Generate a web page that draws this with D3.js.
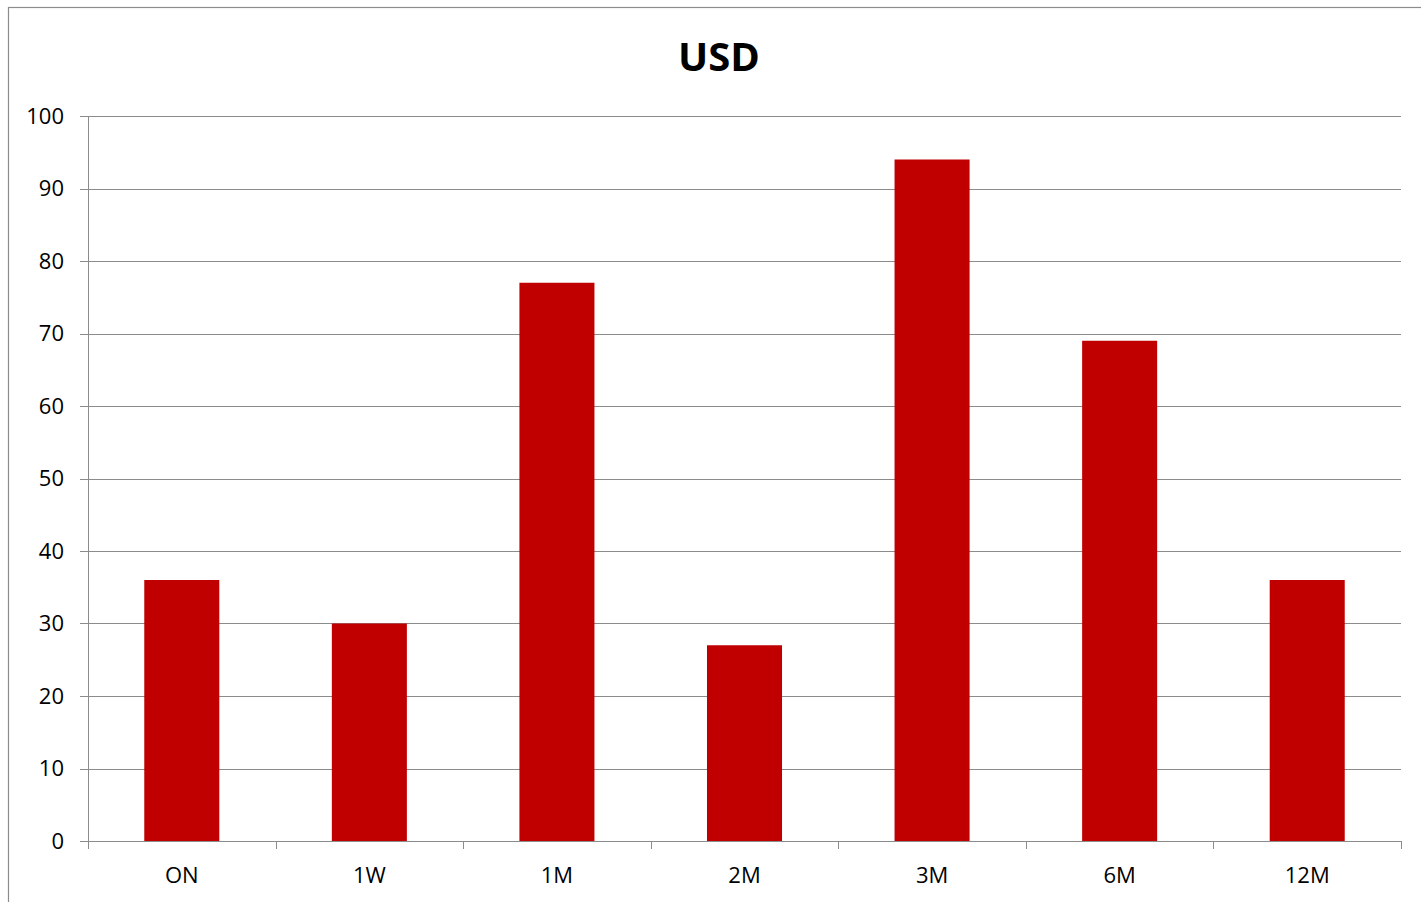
<!DOCTYPE html>
<html>
<head>
<meta charset="utf-8">
<script src="https://cdn.jsdelivr.net/npm/d3@7"></script>
<style>
  body { margin: 0; background: #fff; }
  text { font-family: "Open Sans", "Noto Sans", sans-serif; }
</style>
</head>
<body>
<div class="canvas"></div>
<script>
// chart data
const categories = ['ON', '1W', '1M', '2M', '3M', '6M', '12M'];
const values = [36, 30, 77, 27, 94, 69, 36];
const yTicks = [0, 10, 20, 30, 40, 50, 60, 70, 80, 90, 100];
const title = 'USD';

const dims = { width: 1421, height: 902 };
const plot = { left: 88, right: 1401, top: 116, bottom: 841 };

const svg = d3.select('.canvas')
    .append('svg')
    .attr('width', dims.width)
    .attr('height', dims.height);

// outer chart border (runs off the right / bottom edge)
svg.append('rect')
    .attr('x', 8.5).attr('y', 7.5)
    .attr('width', 1430).attr('height', 920)
    .attr('fill', 'none')
    .attr('stroke', '#8c8c8c')
    .attr('stroke-width', 1.2);

// scales
const x = d3.scaleBand()
    .domain(categories)
    .range([plot.left, plot.right])
    .paddingInner(0.6)
    .paddingOuter(0.3);

const xEdges = d3.scaleBand()
    .domain(categories)
    .range([plot.left, plot.right]);

const y = d3.scaleLinear()
    .domain([0, 100])
    .range([plot.bottom, plot.top]);

// gridlines
svg.append('g')
    .selectAll('line')
    .data(yTicks)
    .enter()
    .append('line')
    .attr('x1', plot.left - 8)
    .attr('x2', plot.right)
    .attr('y1', d => Math.round(y(d)) + 0.5)
    .attr('y2', d => Math.round(y(d)) + 0.5)
    .attr('stroke', '#8c8c8c')
    .attr('stroke-width', 1);

// y axis line
svg.append('line')
    .attr('x1', plot.left + 0.5).attr('x2', plot.left + 0.5)
    .attr('y1', plot.top).attr('y2', plot.bottom + 7)
    .attr('stroke', '#8c8c8c');

// y labels
svg.append('g')
    .selectAll('text')
    .data(yTicks)
    .enter()
    .append('text')
    .attr('x', 64)
    .attr('y', d => y(d))
    .attr('dy', '0.35em')
    .attr('text-anchor', 'end')
    .attr('font-size', 22)
    .attr('fill', '#000')
    .text(d => d);

// bars
svg.append('g')
    .selectAll('rect')
    .data(values)
    .enter()
    .append('rect')
    .attr('x', (d, i) => x(categories[i]))
    .attr('width', x.bandwidth())
    .attr('y', d => y(d))
    .attr('height', d => y(0) - y(d))
    .attr('fill', '#c00000');

// x axis line + ticks
svg.append('line')
    .attr('x1', plot.left).attr('x2', plot.right)
    .attr('y1', plot.bottom + 0.5).attr('y2', plot.bottom + 0.5)
    .attr('stroke', '#8c8c8c');

const edgeTicks = categories.map(c => xEdges(c)).concat([plot.right]);
svg.append('g')
    .selectAll('line')
    .data(edgeTicks)
    .enter()
    .append('line')
    .attr('x1', d => Math.round(d) + 0.5)
    .attr('x2', d => Math.round(d) + 0.5)
    .attr('y1', plot.bottom)
    .attr('y2', plot.bottom + 8)
    .attr('stroke', '#8c8c8c');

// x labels
svg.append('g')
    .selectAll('text')
    .data(categories)
    .enter()
    .append('text')
    .attr('x', d => xEdges(d) + xEdges.bandwidth() / 2)
    .attr('y', 883)
    .attr('text-anchor', 'middle')
    .attr('font-size', 22)
    .attr('fill', '#000')
    .text(d => d);

// title
svg.append('text')
    .attr('x', 719)
    .attr('y', 71)
    .attr('text-anchor', 'middle')
    .attr('font-size', 40)
    .attr('font-weight', 'bold')
    .attr('fill', '#000')
    .text(title);
</script>
</body>
</html>
